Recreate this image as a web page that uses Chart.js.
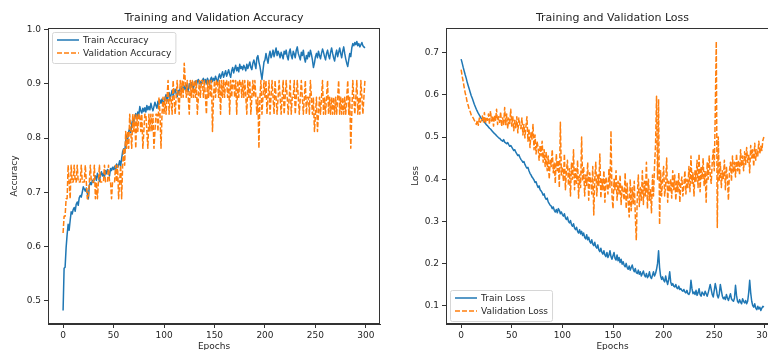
<!DOCTYPE html>
<html>
<head>
<meta charset="utf-8">
<script src="https://cdn.jsdelivr.net/npm/chart.js@4.4.1/dist/chart.umd.min.js"></script>
<style>
  html, body { margin: 0; padding: 0; background: #fff; overflow: hidden; width: 768px; height: 350px; }
  .wrap { position: absolute; top: 0; }
  #accWrap { left: 0; }
  #lossWrap { left: 396px; }
</style>
</head>
<body>
<div class="wrap" id="accWrap"><canvas id="graficoAcc" width="392" height="358"></canvas></div>
<div class="wrap" id="lossWrap"><canvas id="graficoLoss" width="396" height="358"></canvas></div>
<script>
const epochs = Array.from({ length: 300 }, (_, i) => i);

const trainAcc = [
  0.482, 0.560, 0.562, 0.598, 0.622, 0.641, 0.630, 0.648, 0.664, 0.660,
  0.668, 0.672, 0.665, 0.678, 0.682, 0.676, 0.690, 0.694, 0.691, 0.700,
  0.710, 0.706, 0.702, 0.708, 0.698, 0.688, 0.712, 0.718, 0.714, 0.722,
  0.718, 0.725, 0.730, 0.722, 0.735, 0.728, 0.720, 0.732, 0.738, 0.730,
  0.735, 0.728, 0.740, 0.734, 0.742, 0.738, 0.730, 0.744, 0.740, 0.746,
  0.742, 0.748, 0.740, 0.752, 0.746, 0.750, 0.758, 0.748, 0.762, 0.775,
  0.780, 0.772, 0.795, 0.805, 0.798, 0.812, 0.818, 0.810, 0.826, 0.834,
  0.828, 0.838, 0.845, 0.836, 0.848, 0.842, 0.858, 0.850, 0.846, 0.855,
  0.849, 0.856, 0.848, 0.860, 0.852, 0.858, 0.852, 0.864, 0.856, 0.850,
  0.858, 0.866, 0.860, 0.855, 0.868, 0.862, 0.870, 0.864, 0.872, 0.866,
  0.865, 0.874, 0.880, 0.868, 0.876, 0.884, 0.872, 0.880, 0.888, 0.878,
  0.884, 0.890, 0.882, 0.876, 0.888, 0.883, 0.892, 0.886, 0.894, 0.888,
  0.896, 0.889, 0.898, 0.892, 0.886, 0.900, 0.894, 0.902, 0.896, 0.890,
  0.899, 0.905, 0.897, 0.904, 0.908, 0.900, 0.904, 0.898, 0.906, 0.910,
  0.902, 0.908, 0.900, 0.910, 0.905, 0.898, 0.908, 0.912, 0.904, 0.910,
  0.906, 0.914, 0.908, 0.902, 0.912, 0.918, 0.910, 0.916, 0.922, 0.912,
  0.918, 0.924, 0.914, 0.920, 0.926, 0.918, 0.912, 0.924, 0.930, 0.920,
  0.928, 0.934, 0.924, 0.930, 0.922, 0.936, 0.928, 0.932, 0.926, 0.934,
  0.930, 0.924, 0.936, 0.928, 0.934, 0.940, 0.930, 0.926, 0.938, 0.944,
  0.936, 0.928, 0.948, 0.952, 0.940, 0.932, 0.920, 0.908, 0.924, 0.940,
  0.944, 0.956, 0.946, 0.938, 0.952, 0.960, 0.948, 0.954, 0.962, 0.950,
  0.958, 0.966, 0.952, 0.960, 0.955, 0.948, 0.958, 0.952, 0.946, 0.960,
  0.955, 0.962, 0.950, 0.944, 0.958, 0.964, 0.952, 0.946, 0.960, 0.955,
  0.948, 0.962, 0.968, 0.956, 0.950, 0.944, 0.958, 0.952, 0.962, 0.948,
  0.940, 0.952, 0.946, 0.958, 0.950, 0.962, 0.954, 0.944, 0.930, 0.938,
  0.950, 0.956, 0.948, 0.960, 0.952, 0.946, 0.956, 0.964, 0.958, 0.950,
  0.944, 0.956, 0.962, 0.952, 0.946, 0.958, 0.966, 0.956, 0.948, 0.942,
  0.954, 0.962, 0.950, 0.958, 0.966, 0.956, 0.948, 0.960, 0.968, 0.956,
  0.946, 0.938, 0.932, 0.944, 0.956, 0.950, 0.966, 0.974, 0.970, 0.976,
  0.972, 0.978, 0.970, 0.974, 0.968, 0.972, 0.976, 0.970, 0.968, 0.966
];

const valAcc = [
  0.625, 0.656, 0.656, 0.688, 0.688, 0.750, 0.719, 0.688, 0.750, 0.719,
  0.719, 0.750, 0.719, 0.719, 0.750, 0.719, 0.719, 0.719, 0.750, 0.719,
  0.719, 0.719, 0.750, 0.719, 0.688, 0.688, 0.719, 0.750, 0.719, 0.719,
  0.719, 0.750, 0.688, 0.719, 0.688, 0.719, 0.750, 0.719, 0.719, 0.719,
  0.719, 0.750, 0.719, 0.719, 0.719, 0.750, 0.719, 0.719, 0.688, 0.719,
  0.719, 0.719, 0.750, 0.719, 0.750, 0.688, 0.719, 0.750, 0.688, 0.750,
  0.781, 0.750, 0.812, 0.781, 0.812, 0.781, 0.844, 0.812, 0.781, 0.844,
  0.812, 0.844, 0.781, 0.844, 0.812, 0.844, 0.844, 0.812, 0.844, 0.781,
  0.812, 0.844, 0.844, 0.812, 0.781, 0.844, 0.812, 0.844, 0.812, 0.844,
  0.781, 0.812, 0.844, 0.844, 0.812, 0.875, 0.844, 0.781, 0.844, 0.875,
  0.844, 0.875, 0.844, 0.875, 0.906, 0.844, 0.875, 0.875, 0.844, 0.906,
  0.875, 0.844, 0.875, 0.906, 0.875, 0.844, 0.906, 0.875, 0.906, 0.875,
  0.938, 0.906, 0.875, 0.906, 0.875, 0.844, 0.906, 0.875, 0.906, 0.875,
  0.906, 0.875, 0.906, 0.844, 0.875, 0.906, 0.875, 0.906, 0.906, 0.875,
  0.906, 0.875, 0.844, 0.906, 0.875, 0.906, 0.875, 0.906, 0.812, 0.875,
  0.906, 0.875, 0.906, 0.906, 0.875, 0.906, 0.844, 0.906, 0.875, 0.906,
  0.875, 0.906, 0.906, 0.875, 0.906, 0.844, 0.906, 0.875, 0.906, 0.906,
  0.875, 0.906, 0.844, 0.906, 0.875, 0.906, 0.906, 0.875, 0.906, 0.875,
  0.906, 0.875, 0.844, 0.906, 0.875, 0.906, 0.844, 0.875, 0.906, 0.875,
  0.906, 0.875, 0.844, 0.875, 0.781, 0.875, 0.906, 0.844, 0.875, 0.906,
  0.875, 0.906, 0.844, 0.875, 0.906, 0.844, 0.875, 0.906, 0.875, 0.844,
  0.906, 0.875, 0.844, 0.875, 0.906, 0.875, 0.844, 0.875, 0.906, 0.844,
  0.875, 0.906, 0.875, 0.844, 0.875, 0.906, 0.844, 0.875, 0.875, 0.906,
  0.844, 0.875, 0.906, 0.875, 0.844, 0.875, 0.906, 0.875, 0.844, 0.875,
  0.906, 0.844, 0.875, 0.875, 0.844, 0.906, 0.875, 0.844, 0.875, 0.812,
  0.844, 0.875, 0.812, 0.844, 0.875, 0.844, 0.875, 0.906, 0.844, 0.875,
  0.844, 0.875, 0.906, 0.844, 0.875, 0.844, 0.875, 0.844, 0.875, 0.844,
  0.875, 0.844, 0.875, 0.906, 0.844, 0.875, 0.844, 0.875, 0.844, 0.875,
  0.844, 0.875, 0.906, 0.844, 0.875, 0.781, 0.844, 0.906, 0.875, 0.844,
  0.875, 0.906, 0.844, 0.875, 0.844, 0.906, 0.875, 0.844, 0.875, 0.906
];

const trainLoss = [
  0.685, 0.676, 0.666, 0.657, 0.648, 0.640, 0.630, 0.622, 0.614, 0.606,
  0.598, 0.592, 0.585, 0.578, 0.572, 0.566, 0.561, 0.556, 0.552, 0.548,
  0.544, 0.541, 0.538, 0.536, 0.532, 0.529, 0.527, 0.524, 0.521, 0.519,
  0.516, 0.513, 0.511, 0.508, 0.506, 0.503, 0.501, 0.498, 0.497, 0.494,
  0.492, 0.490, 0.494, 0.488, 0.486, 0.484, 0.487, 0.482, 0.478, 0.480,
  0.476, 0.472, 0.468, 0.470, 0.464, 0.460, 0.456, 0.458, 0.452, 0.447,
  0.444, 0.440, 0.442, 0.435, 0.430, 0.426, 0.428, 0.420, 0.414, 0.410,
  0.405, 0.402, 0.398, 0.392, 0.394, 0.386, 0.380, 0.384, 0.375, 0.372,
  0.368, 0.362, 0.365, 0.356, 0.352, 0.355, 0.346, 0.342, 0.338, 0.336,
  0.330, 0.334, 0.326, 0.322, 0.328, 0.320, 0.330, 0.326, 0.318, 0.322,
  0.316, 0.312, 0.318, 0.308, 0.304, 0.310, 0.300, 0.296, 0.302, 0.292,
  0.288, 0.294, 0.284, 0.280, 0.286, 0.276, 0.272, 0.280, 0.270, 0.276,
  0.266, 0.272, 0.262, 0.258, 0.268, 0.256, 0.262, 0.252, 0.248, 0.256,
  0.246, 0.242, 0.250, 0.240, 0.236, 0.244, 0.232, 0.228, 0.236, 0.226,
  0.222, 0.230, 0.220, 0.216, 0.226, 0.214, 0.220, 0.230, 0.216, 0.210,
  0.218, 0.226, 0.212, 0.208, 0.220, 0.206, 0.214, 0.202, 0.210, 0.198,
  0.204, 0.196, 0.192, 0.200, 0.190, 0.186, 0.194, 0.184, 0.190, 0.196,
  0.186, 0.180, 0.188, 0.178, 0.176, 0.184, 0.174, 0.180, 0.170, 0.176,
  0.182, 0.172, 0.168, 0.176, 0.166, 0.170, 0.180, 0.168, 0.164, 0.172,
  0.180, 0.170, 0.176, 0.186, 0.200, 0.230, 0.190, 0.170, 0.162, 0.168,
  0.160, 0.156, 0.170, 0.158, 0.150, 0.162, 0.180, 0.156, 0.148, 0.152,
  0.146, 0.144, 0.150, 0.142, 0.140, 0.146, 0.138, 0.140, 0.136, 0.134,
  0.138, 0.132, 0.130, 0.136, 0.128, 0.126, 0.132, 0.160, 0.140, 0.128,
  0.132, 0.126, 0.136, 0.124, 0.130, 0.140, 0.126, 0.122, 0.132, 0.128,
  0.124, 0.134, 0.128, 0.122, 0.130, 0.140, 0.150, 0.138, 0.126, 0.120,
  0.136, 0.152, 0.140, 0.124, 0.118, 0.128, 0.150, 0.136, 0.122, 0.116,
  0.120, 0.114, 0.126, 0.118, 0.112, 0.120, 0.128, 0.116, 0.112, 0.110,
  0.118, 0.148, 0.124, 0.110, 0.106, 0.114, 0.108, 0.104, 0.116, 0.110,
  0.106, 0.112, 0.104, 0.110, 0.130, 0.160, 0.130, 0.110, 0.100, 0.096,
  0.104, 0.094, 0.090, 0.098, 0.092, 0.096, 0.088, 0.094, 0.098, 0.096
];

const valLoss = [
  0.660, 0.645, 0.632, 0.618, 0.605, 0.595, 0.582, 0.575, 0.565, 0.560,
  0.552, 0.548, 0.545, 0.540, 0.535, 0.530, 0.540, 0.528, 0.545, 0.535,
  0.540, 0.550, 0.536, 0.558, 0.532, 0.548, 0.540, 0.555, 0.530, 0.562,
  0.538, 0.550, 0.526, 0.552, 0.540, 0.566, 0.530, 0.548, 0.535, 0.560,
  0.525, 0.545, 0.530, 0.570, 0.528, 0.555, 0.520, 0.545, 0.532, 0.566,
  0.526, 0.550, 0.515, 0.540, 0.522, 0.548, 0.510, 0.545, 0.530, 0.520,
  0.545, 0.505, 0.530, 0.498, 0.525, 0.548, 0.490, 0.520, 0.475, 0.510,
  0.495, 0.530, 0.470, 0.505, 0.460, 0.490, 0.475, 0.445, 0.480, 0.455,
  0.490, 0.440, 0.470, 0.430, 0.465, 0.420, 0.455, 0.400, 0.445, 0.430,
  0.470, 0.415, 0.440, 0.390, 0.460, 0.420, 0.445, 0.380, 0.535, 0.410,
  0.430, 0.395, 0.460, 0.375, 0.420, 0.445, 0.385, 0.425, 0.360, 0.440,
  0.400, 0.470, 0.375, 0.425, 0.390, 0.445, 0.355, 0.410, 0.380, 0.500,
  0.395, 0.430, 0.360, 0.410, 0.385, 0.440, 0.350, 0.415, 0.395, 0.365,
  0.430, 0.315, 0.400, 0.440, 0.360, 0.410, 0.385, 0.460, 0.355, 0.400,
  0.375, 0.420, 0.345, 0.405, 0.390, 0.365, 0.425, 0.380, 0.515, 0.360,
  0.330, 0.400, 0.375, 0.420, 0.350, 0.395, 0.365, 0.410, 0.340, 0.385,
  0.370, 0.350, 0.415, 0.330, 0.390, 0.345, 0.310, 0.400, 0.325, 0.380,
  0.340, 0.395, 0.315, 0.255, 0.360, 0.410, 0.335, 0.380, 0.350, 0.420,
  0.340, 0.395, 0.360, 0.440, 0.330, 0.400, 0.350, 0.375, 0.320, 0.410,
  0.360, 0.430, 0.480, 0.597, 0.400, 0.590, 0.292, 0.420, 0.360, 0.400,
  0.430, 0.360, 0.385, 0.450, 0.345, 0.395, 0.370, 0.400, 0.355, 0.420,
  0.375, 0.410, 0.350, 0.395, 0.370, 0.415, 0.345, 0.390, 0.405, 0.360,
  0.385, 0.420, 0.365, 0.400, 0.380, 0.430, 0.370, 0.455, 0.390, 0.415,
  0.360, 0.420, 0.395, 0.445, 0.380, 0.460, 0.370, 0.430, 0.400, 0.450,
  0.385, 0.420, 0.345, 0.440, 0.400, 0.455, 0.410, 0.390, 0.440, 0.470,
  0.420, 0.560, 0.727, 0.285, 0.500, 0.395, 0.440, 0.380, 0.420, 0.400,
  0.445, 0.375, 0.430, 0.400, 0.350, 0.420, 0.440, 0.395, 0.455, 0.415,
  0.440, 0.405, 0.460, 0.420, 0.445, 0.410, 0.470, 0.430, 0.455, 0.420,
  0.465, 0.435, 0.475, 0.440, 0.460, 0.415, 0.480, 0.450, 0.470, 0.430,
  0.485, 0.445, 0.470, 0.455, 0.490, 0.460, 0.478, 0.468, 0.492, 0.500
];

const AZUL = '#1f77b4';
const NARANJA = '#ff7f0e';
const FUENTE = "'DejaVu Sans', sans-serif";
const TINTA = '#262626';

// margen del 5% como matplotlib
function limites(series) {
    const todos = series.flat();
    const mn = Math.min(...todos);
    const mx = Math.max(...todos);
    const m = (mx - mn) * 0.05;
    return [mn - m, mx + m];
}

// marco, titulo y leyenda al estilo matplotlib
const decorMpl = {
    id: 'decorMpl',
    afterDraw(chart, args, opts) {
        const { ctx, chartArea: a } = chart;
        ctx.save();
        ctx.strokeStyle = '#333';
        ctx.lineWidth = 1;
        ctx.strokeRect(a.left + 0.5, a.top + 0.5, a.right - a.left - 1, a.bottom - a.top - 1);

        ctx.fillStyle = TINTA;
        ctx.font = '11px ' + FUENTE;
        ctx.textAlign = 'center';
        ctx.textBaseline = 'middle';
        ctx.fillText(opts.titulo, (a.left + a.right) / 2, 18);

        ctx.font = '9px ' + FUENTE;
        const ds = chart.data.datasets;
        const anchoTexto = Math.max(...ds.map(d => ctx.measureText(d.label).width));
        const w = 31 + anchoTexto + 4;
        const h = 31;
        const x = a.left + 4;
        const y = opts.arriba ? a.top + 4 : a.bottom - 3 - h;
        ctx.fillStyle = 'rgba(255,255,255,0.85)';
        ctx.strokeStyle = '#d6d6d6';
        ctx.beginPath();
        ctx.roundRect(x + 0.5, y + 0.5, w, h, 2);
        ctx.fill();
        ctx.stroke();
        ds.forEach((d, i) => {
            const yy = y + 8 + i * 13;
            ctx.strokeStyle = d.borderColor;
            ctx.lineWidth = 1.5;
            ctx.setLineDash(d.borderDash || []);
            ctx.beginPath();
            ctx.moveTo(x + 5, yy);
            ctx.lineTo(x + 27, yy);
            ctx.stroke();
            ctx.setLineDash([]);
            ctx.fillStyle = TINTA;
            ctx.textAlign = 'left';
            ctx.fillText(d.label, x + 31, yy + 0.5);
        });
        ctx.restore();
    }
};

function crearGrafico(id, cfg) {
    const [ymin, ymax] = limites([cfg.train, cfg.val]);
    const xmin = -0.05 * (epochs.length - 1);
    const xmax = (epochs.length - 1) * 1.05;
    const ejeComun = {
        border: { display: true, color: '#333' },
        grid: { display: true, drawOnChartArea: false, drawTicks: true, tickLength: 4, color: '#333' },
    };
    return new Chart(document.getElementById(id), {
        type: 'line',
        data: {
            labels: epochs,
            datasets: [{
                label: cfg.nombres[0],
                data: cfg.train,
                borderColor: AZUL,
                borderWidth: 1.5,
                pointRadius: 0,
                borderJoinStyle: 'round',
                order: 2
            }, {
                label: cfg.nombres[1],
                data: cfg.val,
                borderColor: NARANJA,
                borderWidth: 1.5,
                borderDash: [5, 2],
                pointRadius: 0,
                borderJoinStyle: 'round',
                order: 1
            }]
        },
        options: {
            responsive: false,
            animation: false,
            devicePixelRatio: 1,
            layout: { padding: { top: 28, right: cfg.derecha, left: 0, bottom: 0 } },
            plugins: {
                legend: { display: false },
                tooltip: { enabled: false },
                decorMpl: { titulo: cfg.titulo, arriba: cfg.leyendaArriba }
            },
            scales: {
                x: {
                    ...ejeComun,
                    type: 'linear',
                    min: xmin,
                    max: xmax,
                    afterFit: s => { s.height = 34; },
                    ticks: { stepSize: 50, includeBounds: false, maxRotation: 0, autoSkip: false, padding: 2,
                        color: TINTA, font: { family: FUENTE, size: 9 } },
                    title: { display: true, text: 'Epochs', color: TINTA, font: { family: FUENTE, size: 9 },
                        padding: { top: 2, bottom: 5.5 } }
                },
                y: {
                    ...ejeComun,
                    min: ymin,
                    max: ymax,
                    afterFit: s => { s.width = cfg.anchoY; },
                    ticks: { stepSize: 0.1, includeBounds: false, padding: 3, color: TINTA,
                        font: { family: FUENTE, size: 9 }, callback: v => v.toFixed(1) },
                    title: { display: true, text: cfg.ejeY, color: TINTA, font: { family: FUENTE, size: 9 },
                        padding: { top: cfg.padTituloY, bottom: 0 } }
                }
            }
        },
        plugins: [decorMpl]
    });
}

crearGrafico('graficoAcc', {
    train: trainAcc,
    val: valAcc,
    nombres: ['Train Accuracy', 'Validation Accuracy'],
    titulo: 'Training and Validation Accuracy',
    ejeY: 'Accuracy',
    leyendaArriba: true,
    anchoY: 48,
    padTituloY: 9.5,
    derecha: 12
});

crearGrafico('graficoLoss', {
    train: trainLoss,
    val: valLoss,
    nombres: ['Train Loss', 'Validation Loss'],
    titulo: 'Training and Validation Loss',
    ejeY: 'Loss',
    leyendaArriba: false,
    anchoY: 50,
    padTituloY: 14.5,
    derecha: 13
});
</script>
</body>
</html>
